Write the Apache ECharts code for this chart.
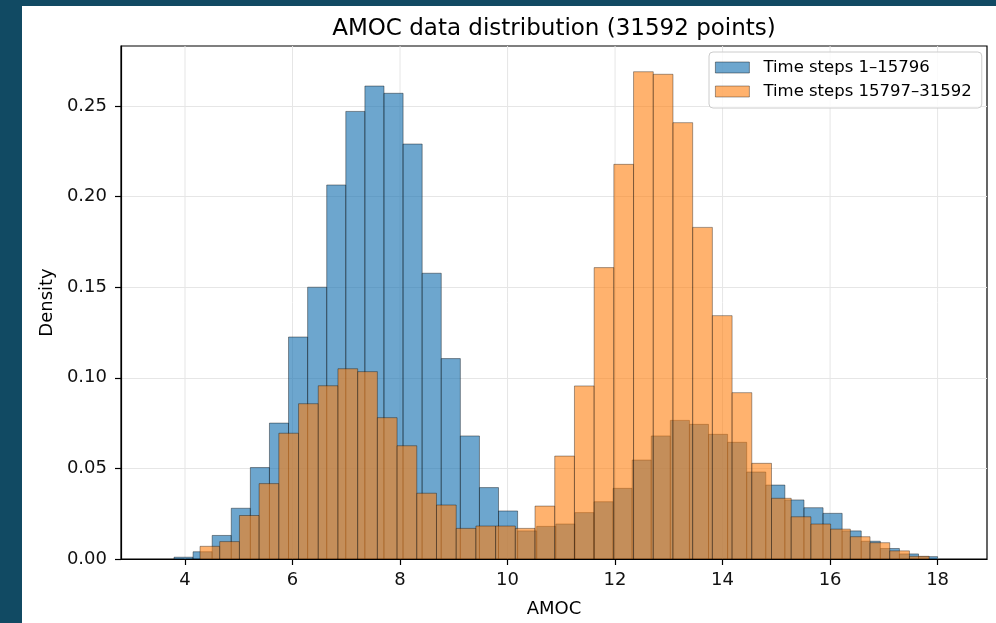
<!DOCTYPE html>
<html><head><meta charset="utf-8">
<script src="https://cdn.jsdelivr.net/npm/echarts@6/dist/echarts.min.js"></script>
<style>
html,body{margin:0;padding:0;background:#114a63;width:996px;height:623px;overflow:hidden;}
#c{position:absolute;left:22px;top:6px;width:974px;height:617px;background:#ffffff;}
</style>
</head><body><div id="c"></div>
<script>
const titleText = 'AMOC data distribution (31592 points)';
const xAxisName = 'AMOC';
const yAxisName = 'Density';
const seriesNames = ['Time steps 1–15796', 'Time steps 15797–31592'];
const xTicks = [4, 6, 8, 10, 12, 14, 16, 18];
const yTicks = [0, 0.05, 0.10, 0.15, 0.20, 0.25];
const xRange = [2.809, 18.919];
const yRange = [0, 0.2831];
// bin ranges (first edge, last edge) of each histogram
const blueBinRange = [3.795, 18.0];
const orangeBinRange = [4.279, 17.843];
// densities per bin
const blueDensity = [0.001, 0.004, 0.013, 0.028, 0.0505, 0.075, 0.1225, 0.150, 0.2064, 0.247,
  0.261, 0.257, 0.229, 0.1577, 0.1106, 0.0679, 0.0394, 0.0265, 0.0155, 0.018,
  0.0193, 0.0256, 0.0316, 0.039, 0.0546, 0.0679, 0.0765, 0.0743, 0.0688, 0.0644,
  0.048, 0.0408, 0.0326, 0.0283, 0.0252, 0.0155, 0.0098, 0.0058, 0.0028, 0.0013];
const orangeDensity = [0.007, 0.0096, 0.024, 0.0416, 0.0694, 0.0857, 0.0956, 0.105, 0.1034, 0.078,
  0.0625, 0.0363, 0.0298, 0.0169, 0.0182, 0.0182, 0.0169, 0.0292, 0.0568, 0.0955,
  0.1608, 0.2178, 0.2689, 0.2675, 0.2408, 0.183, 0.1343, 0.0918, 0.0528, 0.0335,
  0.0233, 0.0193, 0.0165, 0.0123, 0.009, 0.0045, 0.0015];

const FONT = 'DejaVu Sans';
const blueFill = 'rgba(31,119,180,0.65)';
const orangeFill = 'rgba(255,127,14,0.6)';
const edgeBlue = 'rgba(0,0,0,0.5)';
const edgeOrange = 'rgba(0,0,0,0.45)';

function histItems(range, dens) {
  const n = dens.length, w = (range[1] - range[0]) / n;
  return dens.map((d, i) => [range[0] + i * w, range[0] + (i + 1) * w, d]);
}
function barRenderer(fill, stroke) {
  return function (params, api) {
    const p0 = api.coord([api.value(0), api.value(2)]);
    const p1 = api.coord([api.value(1), 0]);
    return {
      type: 'rect',
      shape: { x: p0[0], y: p0[1], width: p1[0] - p0[0], height: p1[1] - p0[1] },
      style: { fill: fill, stroke: stroke, lineWidth: 0.8 }
    };
  };
}

const chart = echarts.init(document.getElementById('c'), null, { renderer: 'canvas' });
chart.setOption({
  animation: false,
  backgroundColor: '#ffffff',
  graphic: [{
    type: 'text', x: 532, y: 23,
    style: { text: titleText, font: '23px "DejaVu Sans"', fill: '#000', textAlign: 'center', textVerticalAlign: 'middle' }
  }],
  grid: { left: 99, right: 9, top: 40, bottom: 64, show: true, borderColor: '#000', borderWidth: 1.2, backgroundColor: 'transparent' },
  legend: {
    orient: 'vertical', left: 687, top: 46,
    padding: [7, 10, 8, 6],
    itemWidth: 34, itemHeight: 11, itemGap: 7,
    backgroundColor: 'rgba(255,255,255,0.8)', borderColor: '#cccccc', borderWidth: 1, borderRadius: 4,
    textStyle: { fontFamily: FONT, fontSize: 16.5, color: '#000', padding: [0, 0, 0, 9] },
    selectedMode: false,
    data: [
      { name: seriesNames[0], icon: 'rect', itemStyle: { color: blueFill, borderColor: edgeBlue, borderWidth: 0.8 } },
      { name: seriesNames[1], icon: 'rect', itemStyle: { color: orangeFill, borderColor: edgeOrange, borderWidth: 0.8 } }
    ]
  },
  xAxis: {
    type: 'value', min: xRange[0], max: xRange[1],
    name: xAxisName, nameLocation: 'middle', nameGap: 41,
    nameTextStyle: { fontFamily: FONT, fontSize: 18, color: '#000' },
    axisLine: { show: true, lineStyle: { color: '#000', width: 1.2 } },
    axisTick: { show: true, length: 6, customValues: xTicks, lineStyle: { color: '#000', width: 1.2 } },
    axisLabel: { customValues: xTicks, margin: 12, fontFamily: FONT, fontSize: 18, color: '#111' },
    splitLine: { show: false }
  },
  yAxis: {
    type: 'value', min: yRange[0], max: yRange[1], interval: 0.05,
    name: yAxisName, nameLocation: 'middle', nameGap: 64,
    nameTextStyle: { fontFamily: FONT, fontSize: 18, color: '#000' },
    axisLine: { show: true, lineStyle: { color: '#000', width: 1.2 } },
    axisTick: { show: true, length: 6, customValues: yTicks, lineStyle: { color: '#000', width: 1.2 } },
    axisLabel: { customValues: yTicks, margin: 14, fontFamily: FONT, fontSize: 18, color: '#111',
      formatter: v => v.toFixed(2) },
    splitLine: { show: true, lineStyle: { color: '#e6e6e6', width: 1 } }
  },
  series: [
    {
      type: 'custom', name: 'xgrid', z: 1, silent: true,
      data: xTicks.map(v => [v]),
      renderItem: function (params, api) {
        const a = api.coord([api.value(0), yRange[0]]);
        const b = api.coord([api.value(0), yRange[1]]);
        return { type: 'line', shape: { x1: a[0], y1: a[1], x2: b[0], y2: b[1] }, style: { stroke: '#e6e6e6', lineWidth: 1 } };
      }
    },
    {
      type: 'custom', name: seriesNames[0], z: 2,
      itemStyle: { color: blueFill },
      encode: { x: [0, 1], y: 2 },
      data: histItems(blueBinRange, blueDensity),
      renderItem: barRenderer(blueFill, edgeBlue)
    },
    {
      type: 'custom', name: seriesNames[1], z: 3,
      itemStyle: { color: orangeFill },
      encode: { x: [0, 1], y: 2 },
      data: histItems(orangeBinRange, orangeDensity),
      renderItem: barRenderer(orangeFill, edgeOrange)
    }
  ]
});
</script>
</body></html>
